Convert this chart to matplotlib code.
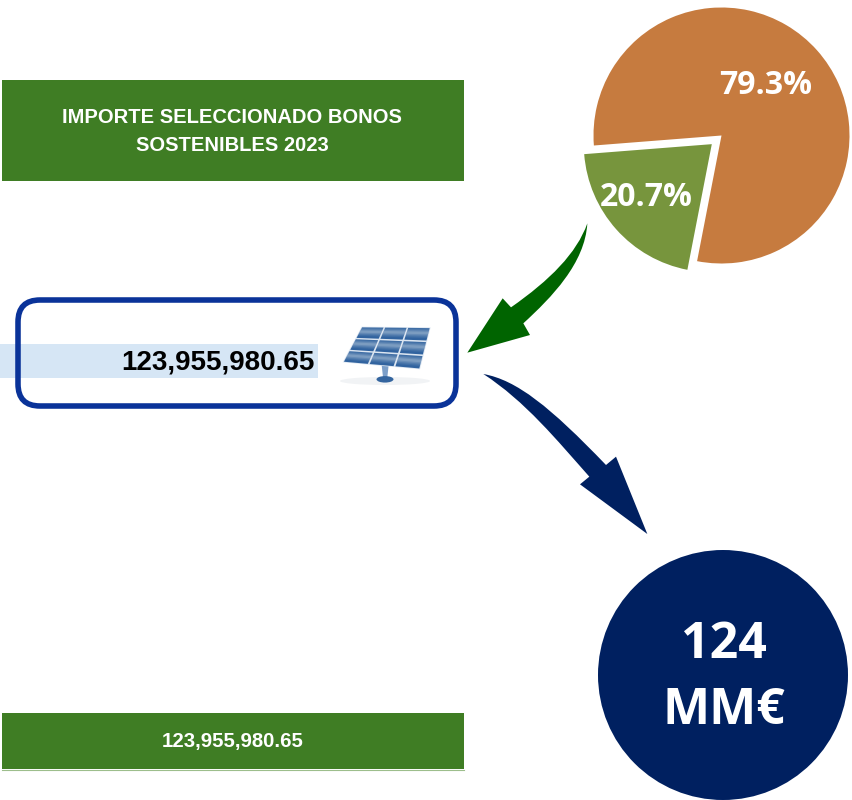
import matplotlib
matplotlib.use("Agg")
import matplotlib.pyplot as plt
from matplotlib.patches import Rectangle, FancyBboxPatch, Circle, Ellipse, Polygon, PathPatch
from matplotlib.path import Path

# Datos del grafico
categorias = ["Otros", "Sostenibles"]
porcentajes = [79.3, 20.7]
colores_pie = ["#C67B3F", "#77953D"]
titulo = ["IMPORTE SELECCIONADO BONOS", "SOSTENIBLES 2023"]
importe = "123,955,980.65"
total_lineas = ["124", "MM€"]

VERDE = "#3F7D24"
AZUL = "#002060"
ARIAL_TXT = ["Liberation Sans", "DejaVu Sans"]
CAL_TXT = ["Open Sans", "DejaVu Sans"]


def py(y):
    # el eje va hacia arriba, las medidas de la imagen hacia abajo
    return 800 - y


def zoom_a(x, y, x0, y0):
    # pasa puntos de un recorte 3x a coordenadas del eje
    return (x0 + x / 3, py(y0 + y / 3))


def flecha(ax, puntos, color):
    verts = [zoom_a(x, y, 450, 210) for x, y, _ in puntos]
    codes = [c for _, _, c in puntos]
    ax.add_patch(PathPatch(Path(verts, codes), fc=color, ec="none", zorder=3))


fig = plt.figure(figsize=(8.52, 8), dpi=100)
ax = fig.add_axes([0, 0, 1, 1])

# Pie con la porcion verde separada (explode va en unidades del eje)
ax.pie(porcentajes, colors=colores_pie, startangle=259, explode=[0, 13],
       center=(721.5, py(135.5)), radius=128, frame=False)
ax.text(765.5, py(85), f"{porcentajes[0]:.1f}%", color="white", fontsize=23,
        fontweight="bold", family=CAL_TXT, ha="center", va="center", zorder=4)
ax.text(646, py(198), f"{porcentajes[1]:.1f}%", color="white", fontsize=23,
        fontweight="bold", family=CAL_TXT, ha="center", va="center", zorder=4)

# Bandas verdes
ax.add_patch(Rectangle((2, py(181)), 462, 101, fc=VERDE, ec="none"))
ax.add_patch(Rectangle((2, py(769)), 462, 56, fc=VERDE, ec="none"))
ax.plot([2, 464], [py(770), py(770)], color="#9DBE8C", lw=0.8)
ax.text(232, py(117.5), titulo[0], color="white", fontsize=14.5, fontweight="bold",
        family=ARIAL_TXT, ha="center", va="center")
ax.text(232, py(145.5), titulo[1], color="white", fontsize=14.5, fontweight="bold",
        family=ARIAL_TXT, ha="center", va="center")
ax.text(232.5, py(741), importe, color="white", fontsize=14.7, fontweight="bold",
        family=ARIAL_TXT, ha="center", va="center")

# Recuadro central
ax.add_patch(Rectangle((0, py(378)), 318, 34, fc="#D6E6F5", ec="none", zorder=1))
ax.add_patch(FancyBboxPatch((18, py(406)), 438, 106, boxstyle="round,pad=0,rounding_size=22",
                            fc="none", ec="#0A3399", lw=4, zorder=2))
ax.text(315, py(362), importe, color="black", fontsize=20, fontweight="bold",
        family=ARIAL_TXT, ha="right", va="center", zorder=3)

# Panel solar
esq = [(125, 80), (332, 82), (300, 208), (68, 187)]


def punto_panel(u, v):
    # interpolacion dentro del panel
    xa = esq[0][0] + (esq[1][0] - esq[0][0]) * u
    ya = esq[0][1] + (esq[1][1] - esq[0][1]) * u
    xb = esq[3][0] + (esq[2][0] - esq[3][0]) * u
    yb = esq[3][1] + (esq[2][1] - esq[3][1]) * u
    return zoom_a(xa + (xb - xa) * v, ya + (yb - ya) * v, 320, 300)


ax.add_patch(Ellipse(zoom_a(195, 243, 320, 300), 90, 8, fc="#F1F3F5", ec="none", zorder=3))
ax.add_patch(Polygon([zoom_a(185, 195, 320, 300), zoom_a(206, 195, 320, 300),
                      zoom_a(202, 232, 320, 300), zoom_a(189, 232, 320, 300)],
                     fc="#7C9FC9", ec="none", zorder=3))
ax.add_patch(Ellipse(zoom_a(195, 238, 320, 300), 17, 6.5, fc="#34659F", ec="none", zorder=3))
ax.add_patch(Polygon([punto_panel(0, 0), punto_panel(1, 0), punto_panel(1, 1), punto_panel(0, 1)],
                     fc="#DCE6F1", ec="none", zorder=4))
gap = 0.012
for i in range(3):
    for j in range(3):
        u0, u1 = i / 3 + gap, (i + 1) / 3 - gap
        v0, v1 = j / 3 + gap * 1.6, (j + 1) / 3 - gap * 1.6
        celda = [punto_panel(u0, v0), punto_panel(u1, v0), punto_panel(u1, v1), punto_panel(u0, v1)]
        ax.add_patch(Polygon(celda, fc="#31639F", ec="none", zorder=5))
        vc = v0 + (v1 - v0) * 0.4
        for k, alfa in [(0.6, 0.07), (0.45, 0.09), (0.3, 0.12), (0.15, 0.15)]:
            brillo = [punto_panel(u0, vc - k * 0.2), punto_panel(u1, vc - k * 0.2),
                      punto_panel(u1, vc + k * 0.2), punto_panel(u0, vc + k * 0.2)]
            ax.add_patch(Polygon(brillo, fc="white", alpha=alfa, ec="none", zorder=6))

# Flechas
M, C, L, Z = Path.MOVETO, Path.CURVE4, Path.LINETO, Path.CLOSEPOLY
flecha(ax, [(412, 40, M), (380, 130, C), (300, 210, C), (183, 292, C),
            (158, 265, L), (52, 428, L), (240, 375, L), (220, 340, L),
            (305, 262, C), (405, 160, C), (412, 40, C), (412, 40, Z)], "#006400")
flecha(ax, [(100, 492, M), (200, 510, C), (300, 590, C), (468, 765, C),
            (498, 740, L), (592, 972, L), (390, 823, L), (418, 800, L),
            (322, 692, C), (225, 573, C), (100, 492, C), (100, 492, Z)], AZUL)

# Circulo total
ax.add_patch(Circle((723, py(675)), 125, fc=AZUL, ec="none", zorder=3))
ax.text(723.5, py(645), total_lineas[0], color="white", fontsize=36, fontweight="bold",
        family=CAL_TXT, ha="center", va="center", zorder=4)
ax.text(724, py(711), total_lineas[1], color="white", fontsize=36, fontweight="bold",
        family=CAL_TXT, ha="center", va="center", zorder=4)

ax.set_xlim(0, 852)
ax.set_ylim(0, 800)
ax.set_aspect("auto")
ax.axis("off")

fig.savefig("out.png", dpi=100, facecolor="white")
